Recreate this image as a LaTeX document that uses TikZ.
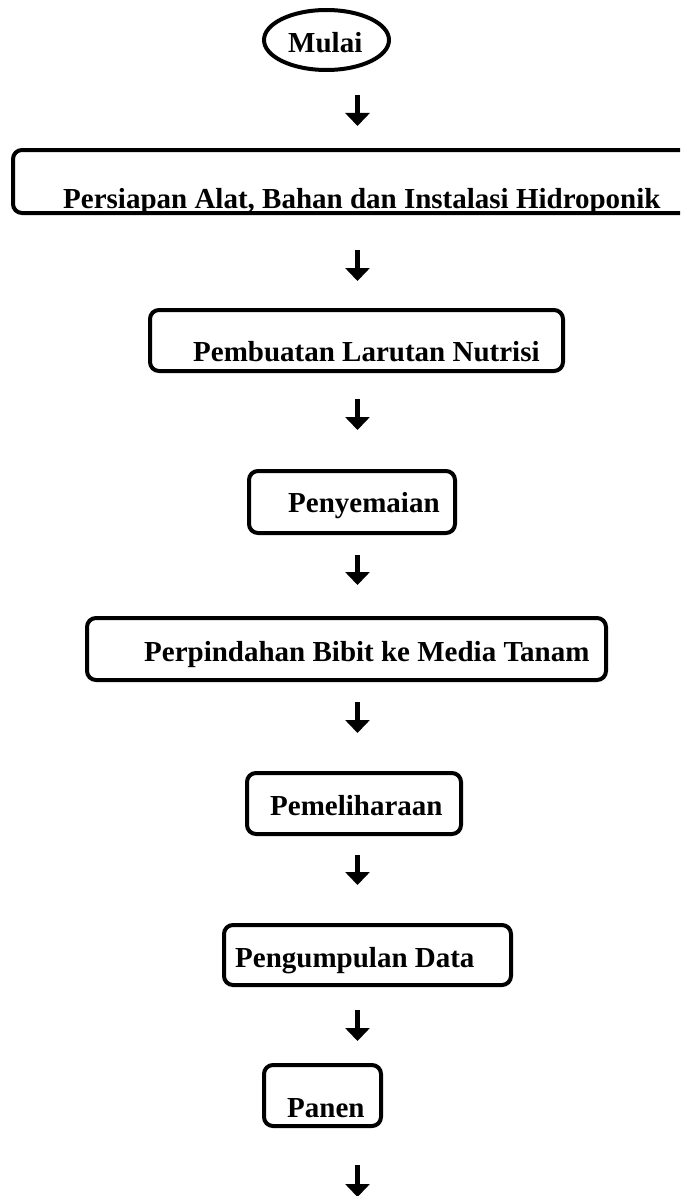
\documentclass[tikz,border=0pt]{standalone}
\usepackage{fontspec}
\setmainfont{Liberation Serif}
\usetikzlibrary{shapes.geometric,arrows.meta}
\tikzset{
  stepbox/.style={draw=black, line width=4pt, rounded corners=9pt, inner sep=0pt, rectangle},
  startnode/.style={draw=black, line width=4pt, ellipse, inner sep=0pt},
  lbl/.style={inner sep=0pt, anchor=base west, font=\fontsize{29}{34}\selectfont\bfseries},
  arr/.style={line width=5.5pt, -{Triangle[width=24pt,length=13pt]}},
}
\begin{document}
\begin{tikzpicture}[x=1pt,y=-1pt]
\useasboundingbox (0,0) rectangle (680,1196);
\clip (0,0) rectangle (680,1196);
\fill[white] (0,0) rectangle (680,1196);
\coordinate (ax) at (357.5,0);
% start
\node[startnode, minimum width=125pt, minimum height=60pt] (mulai) at (326.5,40) {};
\node[lbl] (tmulai) at (288,53) {Mulai};
% boxes
\node[stepbox, minimum width=677pt, minimum height=63pt] (b1) at (351.5,181.5) {};
\node[lbl] (t1) at (63,208) {Persiapan Alat, Bahan dan Instalasi Hidroponik};
\node[stepbox, minimum width=413pt, minimum height=61pt] (b2) at (356.5,340.5) {};
\node[lbl] (t2) at (193,361) {Pembuatan Larutan Nutrisi};
\node[stepbox, minimum width=206pt, minimum height=62pt] (b3) at (352,502) {};
\node[lbl] (t3) at (288,512) {Penyemaian};
\node[stepbox, minimum width=519pt, minimum height=62pt] (b4) at (346.5,649) {};
\node[lbl] (t4) at (144,661) {Perpindahan Bibit ke Media Tanam};
\node[stepbox, minimum width=214pt, minimum height=61pt] (b5) at (354,803.5) {};
\node[lbl] (t5) at (270,815) {Pemeliharaan};
\node[stepbox, minimum width=287pt, minimum height=60pt] (b6) at (367.5,955) {};
\node[lbl] (t6) at (235,967) {Pengumpulan Data};
\node[stepbox, minimum width=117pt, minimum height=61pt] (b7) at (322.5,1095.5) {};
\node[lbl] (t7) at (287,1117) {Panen};
\coordinate (endpt) at (357.5,1197);
% arrows
\draw[arr, shorten <=23pt, shorten >=22pt] (mulai.south -| ax) -- (b1.north -| ax);
\draw[arr, shorten <=35pt, shorten >=27pt] (b1.south -| ax) -- (b2.north -| ax);
\draw[arr, shorten <=26pt, shorten >=39pt] (b2.south -| ax) -- (b3.north -| ax);
\draw[arr, shorten <=20pt, shorten >=31pt] (b3.south -| ax) -- (b4.north -| ax);
\draw[arr, shorten <=20pt, shorten >=38pt] (b4.south -| ax) -- (b5.north -| ax);
\draw[arr, shorten <=19pt, shorten >=38pt] (b5.south -| ax) -- (b6.north -| ax);
\draw[arr, shorten <=23pt, shorten >=22pt] (b6.south -| ax) -- (b7.north -| ax);
\draw[arr, shorten <=37pt] (b7.south -| ax) -- (endpt);
\end{tikzpicture}
\end{document}
